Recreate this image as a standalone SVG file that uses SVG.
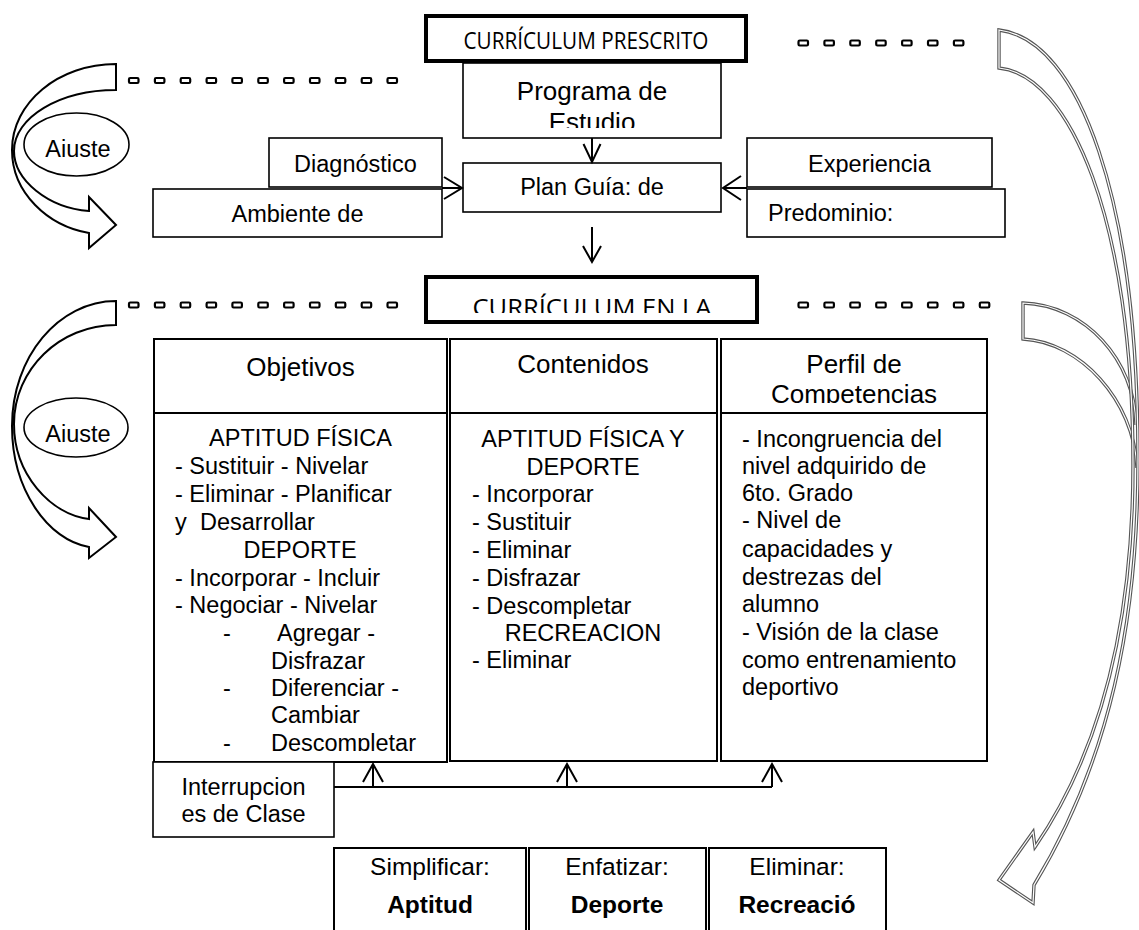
<svg xmlns="http://www.w3.org/2000/svg" width="1139" height="930" viewBox="0 0 1139 930">
<defs>
<style>
.b{fill:#fff;stroke:#000;stroke-width:1.6}
.tk{fill:#fff;stroke:#000;stroke-width:4}
.cl{fill:#fff;stroke:#000;stroke-width:2}
.t{font-family:"Liberation Sans",Arial,sans-serif;font-size:23.5px;fill:#000}
.h{font-size:26px}
.bt{font-size:24.5px}
.m{text-anchor:middle}
.bd{font-weight:bold}
.cal{font-family:"Open Sans","Liberation Sans",sans-serif}
.dot{fill:#fff;stroke:#000;stroke-width:2.2}
.ln{fill:none;stroke:#000;stroke-width:2}
.ah{fill:none;stroke:#000;stroke-width:2}
.la{fill:#fff;stroke:#000;stroke-width:2}
.ro{fill:none;stroke:#555;stroke-width:3.4}
.ri{fill:none;stroke:#fff;stroke-width:1.2}
</style>
<path id="ra1" d="M999,30 C1080,40 1138,200 1138,460 C1138,620 1110,760 1034,885 L1033,903 L999,880 L1033,832 L1035,847 C1105,745 1133,615 1133,465 C1133,220 1070,75 999,68 Z"/>
<path id="ra2" d="M1136,425 C1135,360 1085,305 1023,303 L1023,339 C1080,342 1134,400 1137,468"/>
<clipPath id="cEst"><rect x="463" y="63" width="258" height="65"/></clipPath>
<clipPath id="cEnla"><rect x="426" y="277" width="331" height="36"/></clipPath>
<clipPath id="cComp"><rect x="721" y="339" width="266" height="64"/></clipPath>
<clipPath id="cDesc"><rect x="154" y="413" width="293" height="338"/></clipPath>
<clipPath id="cAj1"><rect x="24" y="113" width="105" height="44"/></clipPath>
<clipPath id="cAj2"><rect x="24" y="398" width="105" height="44"/></clipPath>
</defs>
<rect width="1139" height="930" fill="#fff"/>

<g id="arrows-left">
<path class="la" d="M116,64 C58.6,64 12,102.5 12,150 C12,193 48,226 89,233 L89,248 L116,225 L89,197 L89,211 C48,208 14,180 14,151 C14,117.3 59.7,90 116,90 Z"/>
<path class="la" d="M116,301 C58.6,301 12,357 12,426 C12,490 48,540 89,547 L89,558 L116,537 L89,508 L89,519 C50,514 14,474 14,424 C14,369.3 59.7,325 116,325 Z"/>
</g>
<g id="arrows-right">
<use href="#ra2" class="ro"/><use href="#ra2" class="ri"/>
<use href="#ra1" class="ro"/><use href="#ra1" class="ri"/>
</g>

<g id="ajuste1">
<ellipse class="b" cx="76.5" cy="144.5" rx="52.5" ry="31.5"/>
<text class="t m" x="78" y="157" clip-path="url(#cAj1)">Ajuste</text>
</g>
<g id="ajuste2">
<ellipse class="b" cx="76" cy="427.5" rx="52" ry="29.5"/>
<text class="t m" x="78" y="442" clip-path="url(#cAj2)">Ajuste</text>
</g>

<g id="dots">
<rect class="dot" x="129" y="78" width="9.5" height="5" rx="1.2"/><rect class="dot" x="154.9" y="78" width="9.5" height="5" rx="1.2"/><rect class="dot" x="180.7" y="78" width="9.5" height="5" rx="1.2"/><rect class="dot" x="206.6" y="78" width="9.5" height="5" rx="1.2"/><rect class="dot" x="232.4" y="78" width="9.5" height="5" rx="1.2"/><rect class="dot" x="258.3" y="78" width="9.5" height="5" rx="1.2"/><rect class="dot" x="284.1" y="78" width="9.5" height="5" rx="1.2"/><rect class="dot" x="310" y="78" width="9.5" height="5" rx="1.2"/><rect class="dot" x="335.8" y="78" width="9.5" height="5" rx="1.2"/><rect class="dot" x="361.7" y="78" width="9.5" height="5" rx="1.2"/><rect class="dot" x="387.5" y="78" width="9.5" height="5" rx="1.2"/>
<rect class="dot" x="129" y="302.5" width="9.5" height="5" rx="1.2"/><rect class="dot" x="154.9" y="302.5" width="9.5" height="5" rx="1.2"/><rect class="dot" x="180.7" y="302.5" width="9.5" height="5" rx="1.2"/><rect class="dot" x="206.6" y="302.5" width="9.5" height="5" rx="1.2"/><rect class="dot" x="232.4" y="302.5" width="9.5" height="5" rx="1.2"/><rect class="dot" x="258.3" y="302.5" width="9.5" height="5" rx="1.2"/><rect class="dot" x="284.1" y="302.5" width="9.5" height="5" rx="1.2"/><rect class="dot" x="310" y="302.5" width="9.5" height="5" rx="1.2"/><rect class="dot" x="335.8" y="302.5" width="9.5" height="5" rx="1.2"/><rect class="dot" x="361.7" y="302.5" width="9.5" height="5" rx="1.2"/><rect class="dot" x="387.5" y="302.5" width="9.5" height="5" rx="1.2"/>
<rect class="dot" x="798.5" y="40.5" width="9.5" height="5" rx="1.2"/><rect class="dot" x="824.4" y="40.5" width="9.5" height="5" rx="1.2"/><rect class="dot" x="850.3" y="40.5" width="9.5" height="5" rx="1.2"/><rect class="dot" x="876.2" y="40.5" width="9.5" height="5" rx="1.2"/><rect class="dot" x="902.1" y="40.5" width="9.5" height="5" rx="1.2"/><rect class="dot" x="928" y="40.5" width="9.5" height="5" rx="1.2"/><rect class="dot" x="953.9" y="40.5" width="9.5" height="5" rx="1.2"/>
<rect class="dot" x="798.5" y="302.5" width="9.5" height="5" rx="1.2"/><rect class="dot" x="824.4" y="302.5" width="9.5" height="5" rx="1.2"/><rect class="dot" x="850.3" y="302.5" width="9.5" height="5" rx="1.2"/><rect class="dot" x="876.2" y="302.5" width="9.5" height="5" rx="1.2"/><rect class="dot" x="902.1" y="302.5" width="9.5" height="5" rx="1.2"/><rect class="dot" x="928" y="302.5" width="9.5" height="5" rx="1.2"/><rect class="dot" x="953.9" y="302.5" width="9.5" height="5" rx="1.2"/><rect class="dot" x="979.8" y="302.5" width="9.5" height="5" rx="1.2"/>
</g>

<g id="curriculum-prescrito">
<rect class="tk" x="426" y="16" width="320" height="45"/>
<text class="t cal m" x="586" y="49" font-size="21" textLength="245" lengthAdjust="spacingAndGlyphs">CURRÍCULUM PRESCRITO</text>
</g>
<g id="programa">
<rect class="b" x="463" y="63" width="258" height="75"/>
<text class="t h m" x="592" y="100">Programa de</text>
<text class="t h m" x="592" y="131" clip-path="url(#cEst)">Estudio</text>
</g>
<g id="plan">
<rect class="b" x="463" y="163" width="258" height="49"/>
<text class="t m" x="592" y="195">Plan Guía: de</text>
</g>
<g id="diagnostico">
<rect class="b" x="269" y="138" width="173" height="49"/>
<text class="t m" x="355.5" y="172">Diagnóstico</text>
</g>
<g id="ambiente">
<rect class="b" x="153" y="189" width="289" height="48"/>
<text class="t m" x="297.5" y="222">Ambiente de</text>
</g>
<g id="experiencia">
<rect class="b" x="747" y="138" width="245" height="49"/>
<text class="t m" x="869.5" y="172">Experiencia</text>
</g>
<g id="predominio">
<rect class="b" x="747" y="189" width="258" height="48"/>
<text class="t" x="768" y="221">Predominio:</text>
</g>
<g id="curriculum-clase">
<rect class="tk" x="426" y="277" width="331" height="45"/>
<text class="t cal m" x="592" y="316" font-size="26" textLength="239" lengthAdjust="spacingAndGlyphs" clip-path="url(#cEnla)">CURRÍCULUM EN LA</text>
</g>

<g id="objetivos">
<rect class="cl" x="154" y="339" width="293" height="423"/>
<line class="ln" x1="154" y1="413" x2="447" y2="413"/>
<text class="t h m" x="300.5" y="376">Objetivos</text>
<text class="t m" x="300.5" y="446">APTITUD FÍSICA</text>
<text class="t" x="175" y="474">- Sustituir - Nivelar</text>
<text class="t" x="175" y="502">- Eliminar - Planificar</text>
<text class="t" x="175" y="529.5">y</text><text class="t" x="200" y="529.5">Desarrollar</text>
<text class="t m" x="300" y="557.5">DEPORTE</text>
<text class="t" x="175" y="586">- Incorporar - Incluir</text>
<text class="t" x="175" y="613">- Negociar - Nivelar</text>
<text class="t" x="223" y="641">-</text><text class="t" x="277" y="641">Agregar -</text>
<text class="t" x="271" y="668.5">Disfrazar</text>
<text class="t" x="223" y="695.5">-</text><text class="t" x="271" y="695.5">Diferenciar -</text>
<text class="t" x="271" y="723">Cambiar</text>
<text class="t" x="223" y="751">-</text><text class="t" x="271" y="751" clip-path="url(#cDesc)">Descompletar</text>
</g>
<g id="contenidos">
<rect class="cl" x="450" y="339" width="267" height="422"/>
<line class="ln" x1="450" y1="413" x2="717" y2="413"/>
<text class="t h m" x="583" y="373">Contenidos</text>
<text class="t m" x="583" y="447">APTITUD FÍSICA Y</text>
<text class="t m" x="583" y="474.5">DEPORTE</text>
<text class="t" x="472" y="502">- Incorporar</text>
<text class="t" x="472" y="529.5">- Sustituir</text>
<text class="t" x="472" y="557.5">- Eliminar</text>
<text class="t" x="472" y="586">- Disfrazar</text>
<text class="t" x="472" y="613.5">- Descompletar</text>
<text class="t m" x="583" y="641">RECREACION</text>
<text class="t" x="472" y="667.5">- Eliminar</text>
</g>
<g id="perfil">
<rect class="cl" x="721" y="339" width="266" height="422"/>
<line class="ln" x1="721" y1="413" x2="987" y2="413"/>
<text class="t h m" x="854" y="373">Perfil de</text>
<text class="t h m" x="854" y="403" clip-path="url(#cComp)">Competencias</text>
<text class="t" x="742" y="446.5">- Incongruencia del</text>
<text class="t" x="742" y="474.3">nivel adquirido de</text>
<text class="t" x="742" y="500.7">6to. Grado</text>
<text class="t" x="742" y="528.3">- Nivel de</text>
<text class="t" x="742" y="556.7">capacidades y</text>
<text class="t" x="742" y="585">destrezas del</text>
<text class="t" x="742" y="611.7">alumno</text>
<text class="t" x="742" y="640">- Visión de la clase</text>
<text class="t" x="742" y="668.3">como entrenamiento</text>
<text class="t" x="742" y="695">deportivo</text>
</g>
<g id="interrupciones">
<rect class="b" x="153" y="762" width="181" height="75"/>
<text class="t m" x="243.5" y="795">Interrupcion</text>
<text class="t m" x="243.5" y="822">es de Clase</text>
</g>

<g id="bottom">
<g id="simplificar">
<rect class="cl" x="334" y="848" width="192" height="100"/>
<text class="t bt m" x="430" y="875">Simplificar:</text>
<text class="t bt bd m" x="430" y="913">Aptitud</text>
</g>
<g id="enfatizar">
<rect class="cl" x="529" y="848" width="177" height="100"/>
<text class="t bt m" x="617" y="875">Enfatizar:</text>
<text class="t bt bd m" x="617" y="913">Deporte</text>
</g>
<g id="eliminar">
<rect class="cl" x="709" y="848" width="177" height="100"/>
<text class="t bt m" x="797" y="875">Eliminar:</text>
<text class="t bt bd m" x="797" y="913">Recreació</text>
</g>
</g>

<g id="connectors">
<line class="ln" x1="592" y1="138" x2="592" y2="162"/>
<polyline class="ah" points="583.5,144 592,162 600.5,144"/>
<line class="ln" x1="592" y1="227" x2="592" y2="261"/>
<polyline class="ah" points="583,246 592,262 601,246"/>
<line class="ln" x1="442" y1="188" x2="462" y2="188"/>
<polyline class="ah" points="444,177 462,188 444,199"/>
<line class="ln" x1="747" y1="188" x2="723" y2="188"/>
<polyline class="ah" points="741,176 723,188 741,200"/>
<polyline class="ln" points="334,787 772,787"/>
<line class="ln" x1="373" y1="787" x2="373" y2="764"/>
<line class="ln" x1="567" y1="787" x2="567" y2="764"/>
<line class="ln" x1="772" y1="787" x2="772" y2="764"/>
<polyline class="ah" points="363,782 373,764 383,782"/>
<polyline class="ah" points="557,782 567,764 577,782"/>
<polyline class="ah" points="762,782 772,764 782,782"/>
</g>
</svg>
